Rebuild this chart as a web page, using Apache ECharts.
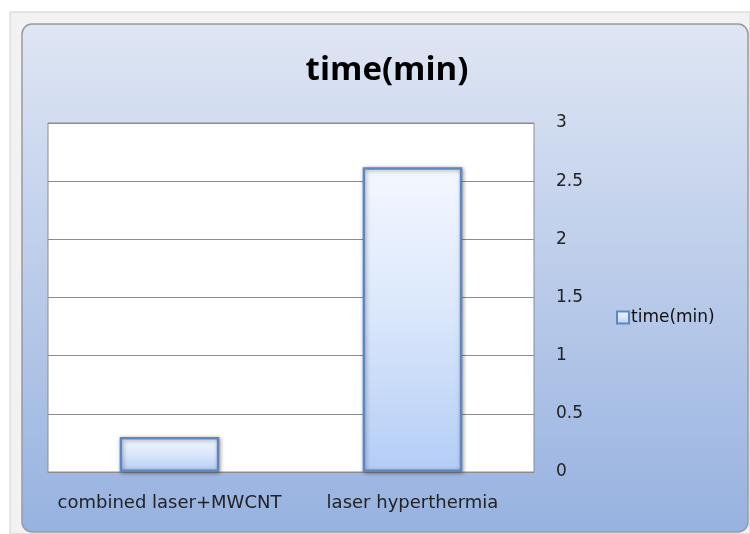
<!DOCTYPE html>
<html>
<head>
<meta charset="utf-8">
<script src="https://cdn.jsdelivr.net/npm/echarts@6/dist/echarts.min.js"></script>
<style>
html,body{margin:0;padding:0;background:#ffffff;}
#c{width:750px;height:534px;}
</style>
</head>
<body>
<div id="c"></div>
<script>
var categories = ["combined laser+MWCNT", "laser hyperthermia"];
var seriesName = "time(min)";
var values = [0.3, 2.62];
var yTicks = [0, 0.5, 1, 1.5, 2, 2.5, 3];

var chart = echarts.init(document.getElementById('c'));
var font = '"Open Sans", "DejaVu Sans", sans-serif';
var wfont = '"DejaVu Sans", sans-serif';
chart.setOption({
  animation: false,
  graphic: [
    {type:'rect', shape:{x:10,y:12,width:740,height:522}, style:{fill:'#f2f2f2', stroke:'#cfcfcf', lineWidth:1}, z:-10},
    {type:'rect', shape:{x:22,y:24,width:726,height:508,r:10},
     style:{fill:new echarts.graphic.LinearGradient(0,0,0,1,[{offset:0,color:'#dfe6f4'},{offset:1,color:'#97b2e0'}]), stroke:'#9a9a9a', lineWidth:1.5}, z:-9},
    {type:'rect', shape:{x:48,y:123,width:486,height:349}, style:{fill:'#ffffff', stroke:'#8c8c8c', lineWidth:1}, z:-8}
  ],
  title: {
    text: 'time(min)', left: 382, top: 49, textAlign: 'center',
    textStyle: {fontFamily: font, fontSize: 33, fontWeight: 'bold', color: '#000'}
  },
  legend: {
    data: [seriesName], left: 611, top: 304, orient: 'vertical',
    itemWidth: 12, itemHeight: 12, itemGap: 4,
    icon: 'rect',
    textStyle: {fontFamily: wfont, fontSize: 17, color: '#111', padding: [0,0,0,-3]}
  },
  grid: {left: 48, right: 216, top: 123, bottom: 62, containLabel: false},
  xAxis: {
    type: 'category', data: categories,
    axisLine: {show: true, lineStyle: {color: '#8c8c8c'}},
    axisTick: {show: false},
    axisLabel: {fontFamily: wfont, fontSize: 18, color: '#222', margin: 22, interval: 0}
  },
  yAxis: {
    type: 'value', position: 'right', min: 0, max: 3, interval: 0.5,
    axisLine: {show: false}, axisTick: {show: false},
    axisLabel: {fontFamily: wfont, fontSize: 17, color: '#222', margin: 22, align: 'left',
      formatter: function(v){ return yTicks.indexOf(v) >= 0 ? String(v) : ''; }},
    splitLine: {show: true, lineStyle: {color: '#8c8c8c', width: 1}}
  },
  series: [{
    name: seriesName, type: 'bar', data: values, barWidth: '41%',
    itemStyle: {
      color: new echarts.graphic.LinearGradient(0,0,0,1,[{offset:0,color:'#f4f8ff'},{offset:0.5,color:'#d9e6fb'},{offset:1,color:'#b4cdf6'}]),
      borderColor: '#5d87c2', borderWidth: 2.5,
      shadowColor: 'rgba(0,0,0,0.35)', shadowBlur: 4, shadowOffsetX: 1, shadowOffsetY: 1
    }
  }]
});
</script>
</body>
</html>
